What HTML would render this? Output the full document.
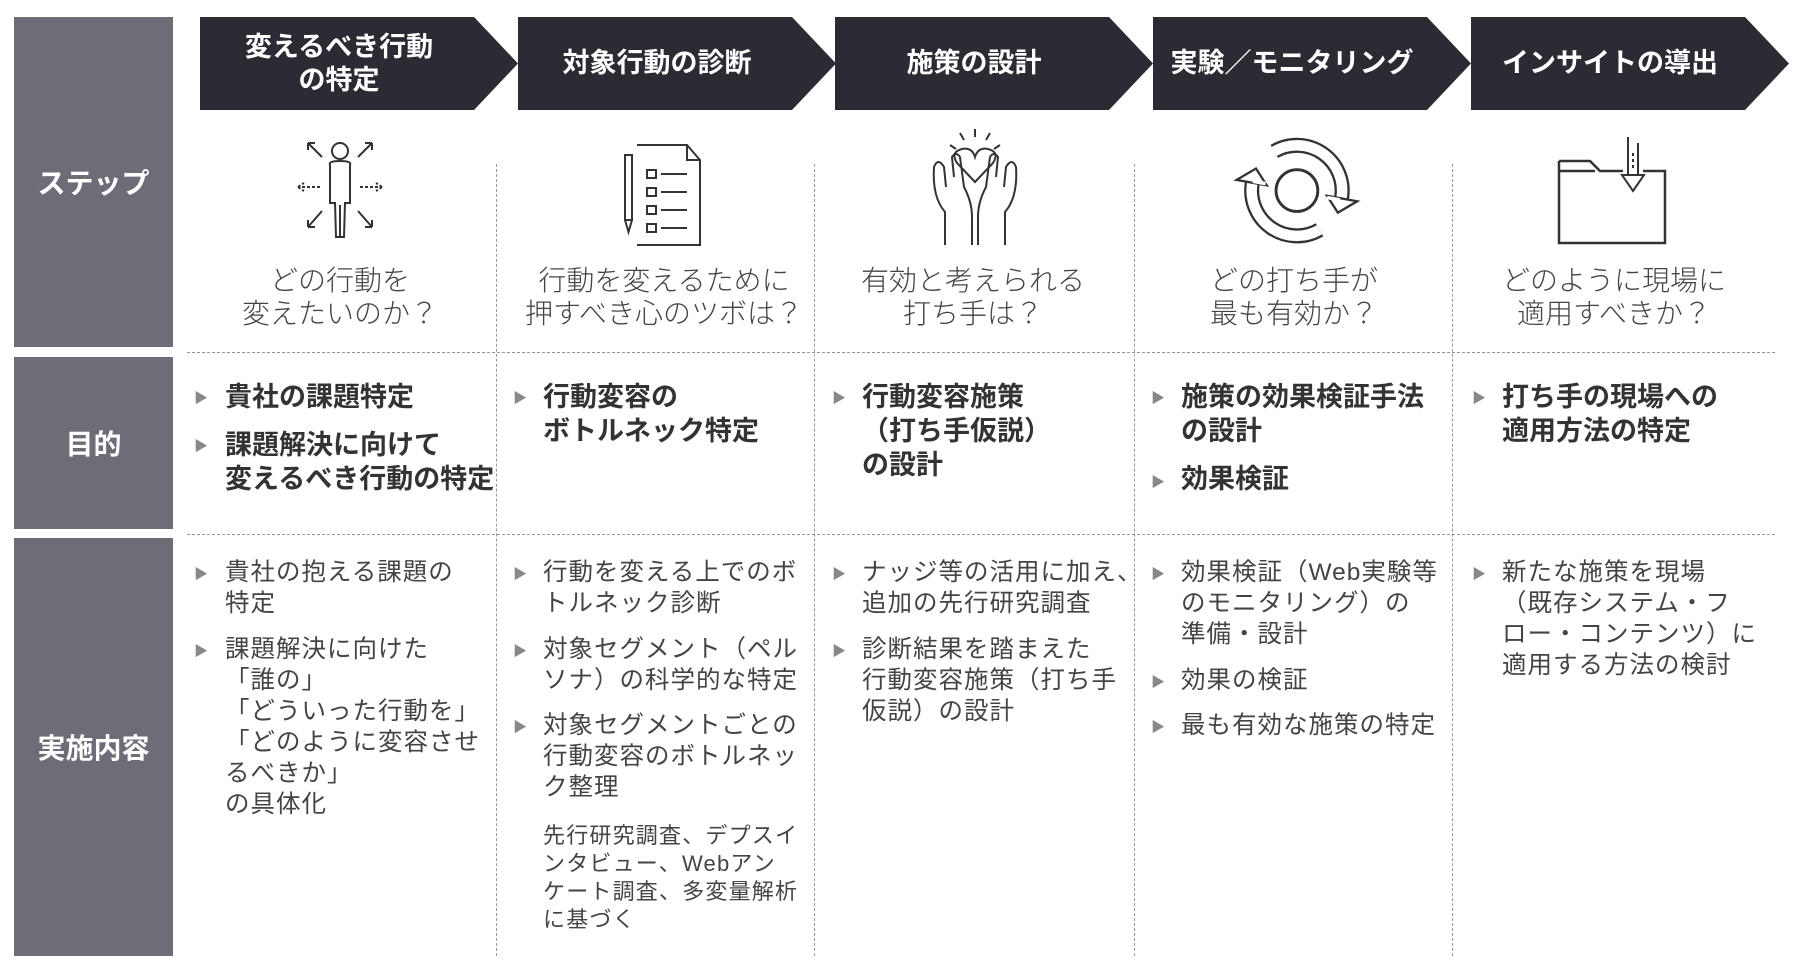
<!DOCTYPE html>
<html><head><meta charset="utf-8"><style>
*{margin:0;padding:0;box-sizing:border-box}
body{width:1800px;height:975px;background:#fff;position:relative;overflow:hidden;font-family:"Liberation Sans","Noto Sans CJK JP",sans-serif;color:#333}
.side{position:absolute;left:14px;width:159px;background:#6e6d77;color:#fff;font-weight:bold;font-size:28px;display:flex;align-items:center;justify-content:center}
.chev{position:absolute;top:17px;height:93px;width:318px;background:#2b2b33;clip-path:polygon(0 0,274px 0,318px 50%,274px 100%,0 100%);color:#fff;font-weight:bold;font-size:27px;line-height:33px;display:flex;align-items:center;justify-content:center;text-align:center;padding-right:40px;white-space:nowrap}
.vd{position:absolute;top:164px;height:792px;border-left:1.5px dashed #999}
.hd{position:absolute;left:187px;width:1588px;border-top:1.5px dashed #999}
.q{position:absolute;top:264px;width:330px;text-align:center;font-size:28px;line-height:33px;color:#444;font-weight:300;white-space:nowrap}
.p{position:absolute;font-size:27px;line-height:34px;font-weight:bold;color:#333;white-space:nowrap}
.c{position:absolute;font-size:24.5px;line-height:31px;color:#444;letter-spacing:1px;white-space:nowrap}
.b{position:absolute;font-size:14px;color:#888}
.n{position:absolute;font-size:22px;line-height:28px;color:#444;letter-spacing:1.2px;white-space:nowrap}
svg{position:absolute}
</style></head><body>
<div class="side" style="top:17px;height:330px">ステップ</div>
<div class="side" style="top:357px;height:172px">目的</div>
<div class="side" style="top:538px;height:418px">実施内容</div>

<div class="chev" style="left:200px">変えるべき行動<br>の特定</div>
<div class="chev" style="left:518px">対象行動の診断</div>
<div class="chev" style="left:835px">施策の設計</div>
<div class="chev" style="left:1153px">実験／モニタリング</div>
<div class="chev" style="left:1471px">インサイトの導出</div>

<div class="vd" style="left:496px"></div>
<div class="vd" style="left:814px"></div>
<div class="vd" style="left:1134px"></div>
<div class="vd" style="left:1452px"></div>
<div class="hd" style="top:352px"></div>
<div class="hd" style="top:534px"></div>

<!-- icons -->
<svg style="left:280px;top:135px" width="120" height="110" viewBox="0 0 120 110" fill="none" stroke="#333" stroke-width="2">
<circle cx="60" cy="16" r="8"/><path d="M50 30 Q48 26 60 26 Q72 26 70 30 L70 68 L65 68 L64 102 L56 102 L55 68 L50 68 Z M60 70 L60 102"/>
<path d="M42 22 L28 8 M28 8 L28 15 M28 8 L35 8"/><path d="M78 22 L92 8 M92 8 L92 15 M92 8 L85 8"/>
<path d="M40 52 L18 52 M18 52 L24 48 M18 52 L24 56" stroke-dasharray="3 2"/><path d="M80 52 L102 52 M102 52 L96 48 M102 52 L96 56" stroke-dasharray="3 2"/>
<path d="M42 76 L28 92 M28 92 L28 85 M28 92 L35 92"/><path d="M78 76 L92 92 M92 92 L92 85 M92 92 L85 92"/></svg>
<svg style="left:615px;top:140px" width="100" height="110" viewBox="0 0 100 110" fill="none" stroke="#333" stroke-width="2">
<path d="M22 5 L72 5 L85 20 L85 105 L22 105"/><path d="M72 5 L72 20 L85 20"/>
<rect x="10" y="15" width="7" height="65"/><path d="M10 80 L13.5 92 L17 80"/>
<rect x="32" y="30" width="9" height="8"/><rect x="32" y="48" width="9" height="8"/><rect x="32" y="66" width="9" height="8"/><rect x="32" y="84" width="9" height="8"/>
<path d="M46 34 L72 34 M46 52 L72 52 M46 70 L72 70 M46 88 L72 88"/></svg>
<svg style="left:920px;top:127px" width="110" height="120" viewBox="0 0 110 120" fill="none" stroke="#333" stroke-width="2">
<path d="M55 2 L55 10 M40 6 L44 13 M70 6 L66 13 M30 18 L36 22 M80 18 L74 22"/>
<path d="M55 55 L37 36 Q30 25 42 22 Q52 20 55 30 Q58 20 68 22 Q80 25 73 36 Z"/>
<path d="M25 118 L25 85 Q12 70 14 40 Q18 30 24 40 L26 60 M34 50 L32 30 Q36 24 40 30 L44 60 Q52 75 52 90 L52 118"/>
<path d="M85 118 L85 85 Q98 70 96 40 Q92 30 86 40 L84 60 M76 50 L78 30 Q74 24 70 30 L66 60 Q58 75 58 90 L58 118"/></svg>
<svg style="left:1225px;top:121px" width="145" height="145" viewBox="0 0 125 125" fill="none" stroke="#333">
<circle cx="62" cy="60" r="18" stroke-width="2.5"/>
<path d="M81.5 93.8 A39 39 0 0 1 23.6 53.2" stroke-width="13"/>
<path d="M81.5 93.8 A39 39 0 0 1 23.6 53.2" stroke="#fff" stroke-width="9"/>
<path d="M42.5 26.2 A39 39 0 0 1 100.4 66.8" stroke-width="13"/>
<path d="M42.5 26.2 A39 39 0 0 1 100.4 66.8" stroke="#fff" stroke-width="9"/>
<path d="M36 55.5 L10 50.8 L26.7 41 Z" fill="#fff" stroke-width="2"/>
<path d="M88 64.5 L114 69.2 L97.3 79 Z" fill="#fff" stroke-width="2"/>
<path d="M35 54 L24 52 M88 66 L99 68" stroke="#fff" stroke-width="3"/></svg>
<svg style="left:1550px;top:135px" width="130" height="115" viewBox="0 0 130 115" fill="none" stroke="#333" stroke-width="2.5">
<path d="M9 26 L40 26 L50 36 L73 36"/>
<path d="M93 36 L115 36 L115 108 L9 108 L9 26"/>
<path d="M9 36 L45 36"/>
<path d="M78 2 L78 40 M88 8 L88 40 M72 40 L94 40 L83 56 Z" stroke-width="2"/>
<path d="M83 18 L83 36" stroke-dasharray="3 3" stroke-width="2"/></svg>

<div class="q" style="left:175px">どの行動を<br>変えたいのか？</div>
<div class="q" style="left:499px">行動を変えるために<br>押すべき心のツボは？</div>
<div class="q" style="left:808px">有効と考えられる<br>打ち手は？</div>
<div class="q" style="left:1129px">どの打ち手が<br>最も有効か？</div>
<div class="q" style="left:1449px">どのように現場に<br>適用すべきか？</div>

<!-- purpose -->
<div class="b" style="left:194px;top:388px">▶</div><div class="p" style="left:225px;top:380px">貴社の課題特定</div>
<div class="b" style="left:194px;top:436px">▶</div><div class="p" style="left:225px;top:428px">課題解決に向けて<br>変えるべき行動の特定</div>
<div class="b" style="left:513px;top:388px">▶</div><div class="p" style="left:543px;top:380px">行動変容の<br>ボトルネック特定</div>
<div class="b" style="left:832px;top:388px">▶</div><div class="p" style="left:862px;top:380px">行動変容施策<br>（打ち手仮説）<br>の設計</div>
<div class="b" style="left:1151px;top:388px">▶</div><div class="p" style="left:1181px;top:380px">施策の効果検証手法<br>の設計</div>
<div class="b" style="left:1151px;top:472px">▶</div><div class="p" style="left:1181px;top:462px">効果検証</div>
<div class="b" style="left:1472px;top:388px">▶</div><div class="p" style="left:1502px;top:380px">打ち手の現場への<br>適用方法の特定</div>

<!-- content -->
<div class="b" style="left:194px;top:564px">▶</div><div class="c" style="left:225px;top:557px">貴社の抱える課題の<br>特定</div>
<div class="b" style="left:194px;top:641px">▶</div><div class="c" style="left:225px;top:634px">課題解決に向けた<br>「誰の」<br>「どういった行動を」<br>「どのように変容させ<br>るべきか」<br>の具体化</div>

<div class="b" style="left:513px;top:564px">▶</div><div class="c" style="left:543px;top:557px">行動を変える上でのボ<br>トルネック診断</div>
<div class="b" style="left:513px;top:641px">▶</div><div class="c" style="left:543px;top:634px">対象セグメント（ペル<br>ソナ）の科学的な特定</div>
<div class="b" style="left:513px;top:717px">▶</div><div class="c" style="left:543px;top:710px">対象セグメントごとの<br>行動変容のボトルネッ<br>ク整理</div>
<div class="n" style="left:543px;top:822px">先行研究調査、デプスイ<br>ンタビュー、Webアン<br>ケート調査、多変量解析<br>に基づく</div>

<div class="b" style="left:832px;top:564px">▶</div><div class="c" style="left:862px;top:557px">ナッジ等の活用に加え、<br>追加の先行研究調査</div>
<div class="b" style="left:832px;top:641px">▶</div><div class="c" style="left:862px;top:634px">診断結果を踏まえた<br>行動変容施策（打ち手<br>仮説）の設計</div>

<div class="b" style="left:1151px;top:564px">▶</div><div class="c" style="left:1181px;top:557px">効果検証（Web実験等<br>のモニタリング）の<br>準備・設計</div>
<div class="b" style="left:1151px;top:672px">▶</div><div class="c" style="left:1181px;top:665px">効果の検証</div>
<div class="b" style="left:1151px;top:717px">▶</div><div class="c" style="left:1181px;top:710px">最も有効な施策の特定</div>

<div class="b" style="left:1472px;top:564px">▶</div><div class="c" style="left:1502px;top:557px">新たな施策を現場<br>（既存システム・フ<br>ロー・コンテンツ）に<br>適用する方法の検討</div>
</body></html>
